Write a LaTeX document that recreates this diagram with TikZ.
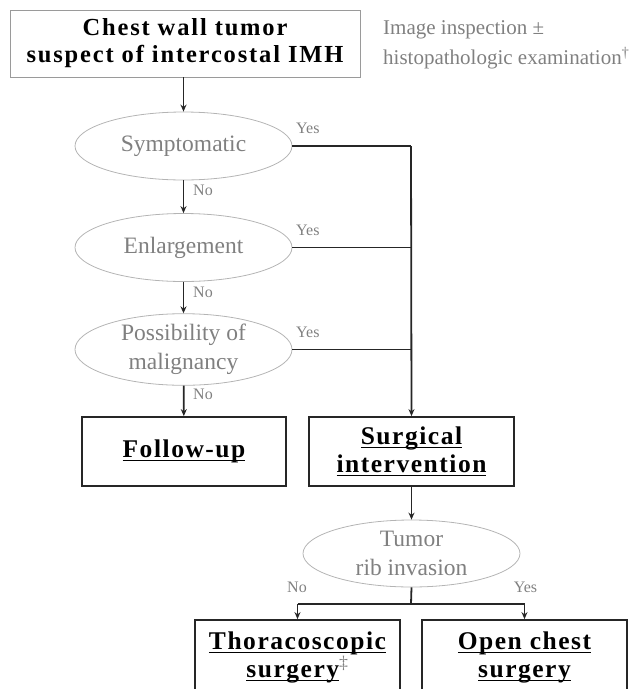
\documentclass[tikz,border=0pt]{standalone}
\usepackage{fontspec}
\setmainfont{Liberation Serif}
\newfontfamily{\spacedbold}[LetterSpace=7.5,BoldFont={* Bold}]{Liberation Serif}
\newfontfamily{\boxbold}[LetterSpace=6,BoldFont={* Bold}]{Liberation Serif}
\usetikzlibrary{shapes.geometric,arrows.meta}
\definecolor{txtgray}{HTML}{808080}
\definecolor{ellgray}{HTML}{B4B4B4}
\definecolor{boxgray}{HTML}{9A9A9A}
\newsavebox{\myulbox}
\newcommand{\myul}[1]{\sbox{\myulbox}{#1}\rlap{\rule[-3.5pt]{\wd\myulbox}{1.1pt}}\usebox{\myulbox}}
\begin{document}
\begin{tikzpicture}[x=1pt,y=-1pt,
  ov/.style={ellipse, draw=ellgray, line width=0.8pt, inner sep=0pt, minimum width=217pt, minimum height=68pt, text=txtgray, align=center, font=\fontsize{23.5}{29}\selectfont},
  bx/.style={rectangle, draw=black!85, line width=1.8pt, inner sep=0pt, minimum width=205pt, minimum height=69pt, align=center, font=\boxbold\bfseries\fontsize{25.5}{28}\selectfont},
  lab/.style={text=txtgray, font=\fontsize{16}{18}\selectfont, inner sep=0pt},
  conn/.style={line width=1.8pt, draw=black!85},
  arr/.style={conn, -{Stealth[length=7pt,width=6pt]}}
]
\useasboundingbox (0,0) rectangle (633,689);
\clip (0,0) rectangle (633,689);

% top box
\node[rectangle, draw=boxgray, line width=0.9pt, inner sep=0pt, minimum width=350pt, minimum height=67pt, align=center, font=\spacedbold\bfseries\fontsize{24.5}{27}\selectfont] (top) at (185,43.5) {Chest wall tumor\\suspect of intercostal IMH};
\node[anchor=west, text=txtgray, align=left, inner sep=0pt, font=\fontsize{21}{30}\selectfont] (note) at (383,45) {Image inspection ±\\histopathologic examination\textsuperscript{†}};

% decisions
\node[ov] (sym) at (183.5,146) {Symptomatic};
\node[ov] (enl) at (183.5,247.5) {Enlargement};
\node[ov] (mal) at (183.5,349.5) {Possibility of\\malignancy};
\node[ov, minimum height=67pt] (rib) at (411.5,553.5) {Tumor\\rib invasion};

% boxes
\node[bx, minimum width=204pt] (fol) at (184,451.5) {\myul{Follow-up}};
\node[bx] (sur) at (411.5,451.5) {\myul{Surgical}\\\myul{intervention}};
\node[bx, minimum height=75pt] (tho) at (297.5,657.5) {\myul{Thoracoscopic}\\\myul{surgery}\textsuperscript{\mdseries\color{txtgray}‡}};
\node[bx, minimum height=75pt] (ope) at (524.5,657.5) {\myul{Open chest}\\\myul{surgery}};

% junction coordinates
\coordinate (j1) at (411,146);
\coordinate (j2) at (411,247.5);
\coordinate (j3) at (411,349.5);
\coordinate (jb) at (411,604);
\coordinate (jl) at (297.5,604);
\coordinate (jr) at (524.5,604);

% vertical flow
\draw[arr] (top.south -| sym.north) -- (sym.north);
\draw[arr] (sym) -- (enl);
\draw[arr] (enl) -- (mal);
\draw[arr] (mal) -- (fol);
\draw[arr] (sur) -- (rib);

% yes branches
\draw[conn] (sym.east) -- (j1);
\draw[conn] (enl.east) -- (j2);
\draw[conn] (mal.east) -- (j3);
\draw[arr] (j1) -- (sur.north);

% rib branches
\draw[conn] (rib.south) -- (jb);
\draw[arr] (jl) -- (tho.north);
\draw[arr] (jr) -- (ope.north);
\draw[conn] (jl) -- (jr);

% labels
\node[lab, anchor=west] (y1) at (296,128) {Yes};
\node[lab, anchor=west] (y2) at (296,230) {Yes};
\node[lab, anchor=west] (y3) at (296,332) {Yes};
\node[lab, anchor=west] (n1) at (193,190) {No};
\node[lab, anchor=west] (n2) at (193,292) {No};
\node[lab, anchor=west] (n3) at (193,394) {No};
\node[lab] (n4) at (297,587) {No};
\node[lab] (y4) at (525.5,587) {Yes};
\end{tikzpicture}
\end{document}
